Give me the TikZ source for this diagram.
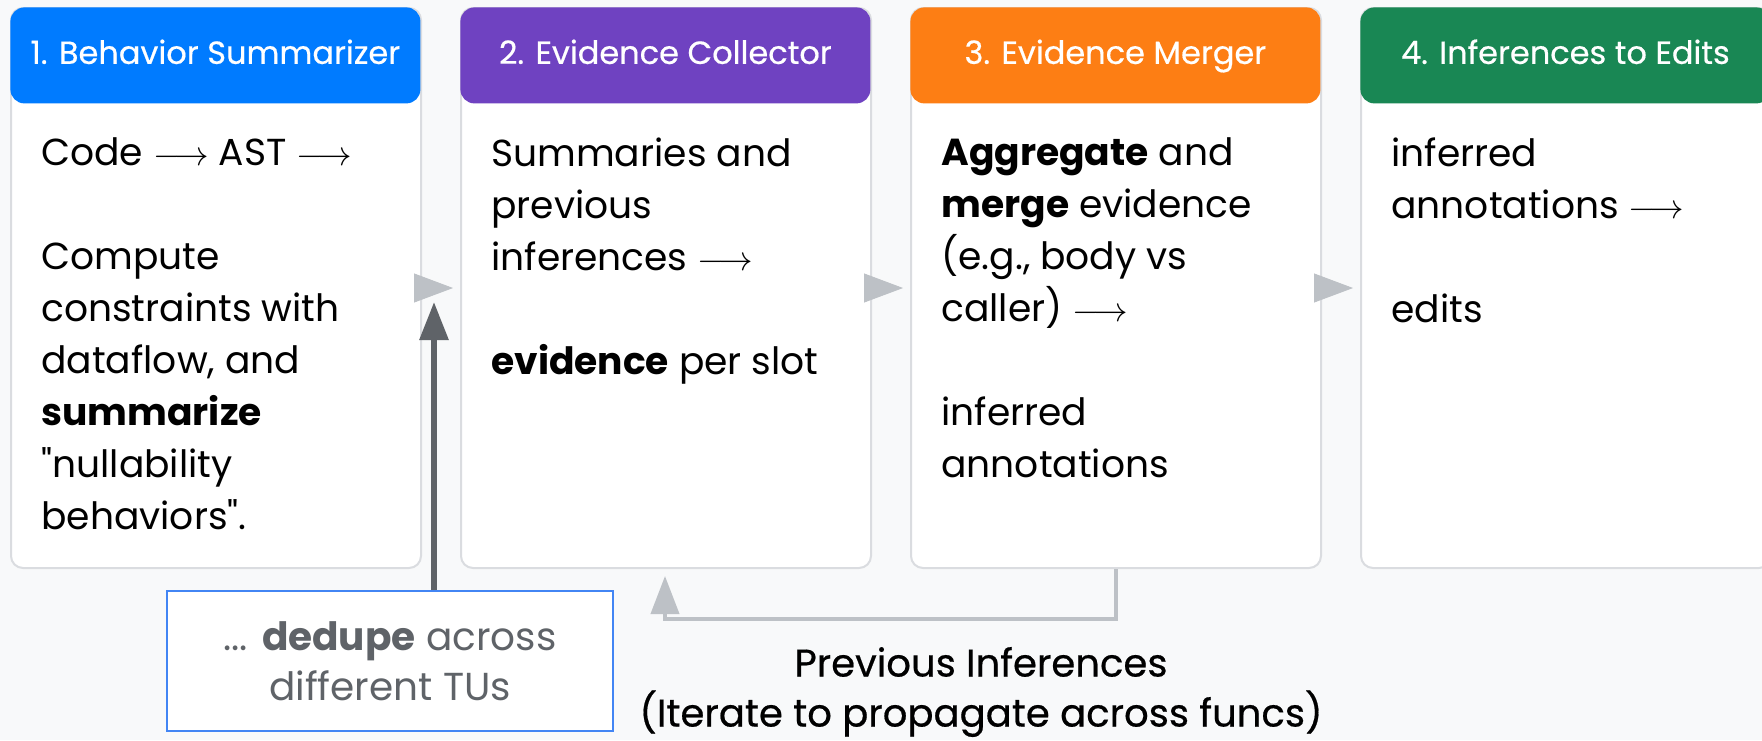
\documentclass[tikz,border=0pt]{standalone}
\usepackage{fontspec}
\setmainfont{Poppins}[Ligatures=TeXOff]
\newfontfamily\medfont{Poppins}[FakeBold=0.5, Ligatures=TeXOff]
\usetikzlibrary{arrows.meta}
\definecolor{bgpage}{HTML}{F8F9FA}
\definecolor{cardline}{HTML}{DADCE0}
\definecolor{hdrblue}{HTML}{007BFF}
\definecolor{hdrpurple}{HTML}{6F42C1}
\definecolor{hdrorange}{HTML}{FD7E14}
\definecolor{hdrgreen}{HTML}{198754}
\definecolor{flowgray}{HTML}{BDC1C6}
\definecolor{inkgray}{HTML}{5F6368}
\definecolor{noteblue}{HTML}{4285F4}

\begin{document}
\begin{tikzpicture}[x=0.5pt, y=-0.5pt,
    card/.style={draw=cardline, line width=1pt, fill=white, rounded corners=6pt,
      minimum width=205pt, minimum height=280pt, anchor=north west, inner sep=0pt},
    header/.style={fill=#1, rounded corners=7pt, minimum width=205pt, minimum height=48pt,
      anchor=north west, inner sep=0pt, text=white, text height=12pt, text depth=3.5pt,
      font=\medfont\fontsize{16}{19}\selectfont},
    body/.style={anchor=north west, align=left, inner sep=0pt, font=\fontsize{18.8}{26}\selectfont},
    flow/.style={flowgray, -{Triangle[length=19.5pt, width=14.5pt]}},
    note/.style={draw=noteblue, line width=1pt, fill=white, text=inkgray, align=center,
      minimum width=223pt, minimum height=70pt, font=\fontsize{19.5}{25}\selectfont}]
        % Page
        \useasboundingbox (0,0) rectangle (1762,740);
        \clip (0,0) rectangle (1762,740);
        \fill[bgpage] (0,0) rectangle (1762,740);
        % Stage cards
        \foreach \i/\c/\t in {1/hdrblue/Behavior Summarizer, 2/hdrpurple/Evidence Collector,
            3/hdrorange/Evidence Merger, 4/hdrgreen/Inferences to Edits} {
          \node[card] (b\i) at ({10+450*(\i-1)},7) {};
          \node[header=\c] (h\i) at ({10+450*(\i-1)},7) {\i. \t};
        }
        % Card texts
        \node[body] (t1) at (41,137) {Code $\longrightarrow$ AST $\longrightarrow$\\[26pt]
          Compute\\constraints with\\dataflow, and\\\textbf{summarize}\\"nullability\\behaviors".};
        \node[body] (t2) at (491,137) {Summaries and\\previous\\inferences $\longrightarrow$\\[26pt]
          \textbf{evidence} per slot};
        \node[body] (t3) at (941,137) {\textbf{Aggregate} and\\\textbf{merge} evidence\\(e.g., body vs\\caller) $\longrightarrow$\\[26pt]
          inferred\\annotations};
        \node[body] (t4) at (1391,137) {inferred\\annotations $\longrightarrow$\\[26pt]edits};
        % Flow between stages
        \draw[flow] ([xshift=-3pt]b1.east) -- ([xshift=-3.5pt]b2.west);
        \draw[flow] ([xshift=-3pt]b2.east) -- ([xshift=-3.5pt]b3.west);
        \draw[flow] ([xshift=-3pt]b3.east) -- ([xshift=-3.5pt]b4.west);
        % Dedupe note
        \node[note] (dedupe) at (390,661) {... \textbf{dedupe} across\\different TUs};
        \coordinate (uptip) at (434,302);
        \draw[inkgray, line width=3pt, -{Triangle[length=19pt, width=14pt]}] (dedupe.north -| uptip) -- (uptip);
        % Feedback loop
        \coordinate (backtip) at (665,576);
        \draw[flowgray, line width=2pt, -{Triangle[length=19pt, width=14pt]}] (b3.south) -- ++(0,50) -| (backtip);
        \node[align=center, font=\medfont\fontsize{19.3}{25}\selectfont] (prev) at (981,692)
          {Previous Inferences\\(Iterate to propagate across funcs)};
      \end{tikzpicture}
\end{document}
